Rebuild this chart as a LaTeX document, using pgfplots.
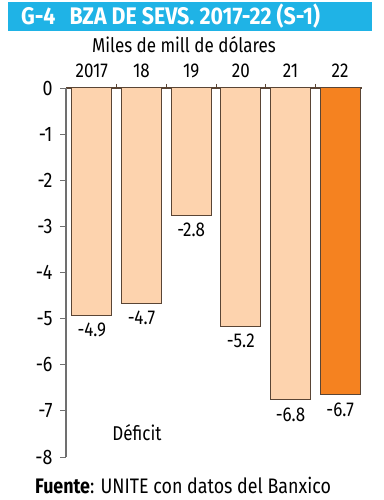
\documentclass[border=0pt]{standalone}
\usepackage{fontspec}
\setmainfont{Fira Sans}[FakeStretch=0.85]
\newfontfamily\titlefont{Fira Sans}[FakeStretch=0.89]
\usepackage{pgfplots}
\pgfplotsset{compat=1.18}
\definecolor{banner}{HTML}{1FB3E6}
\definecolor{peach}{HTML}{FDD3AE}
\definecolor{orng}{HTML}{F58220}
\definecolor{edge}{HTML}{5A4535}
\definecolor{axgray}{HTML}{707070}
\begin{document}
\begin{tikzpicture}
\path[use as bounding box] (0pt,0pt) rectangle (383pt,-500pt);
\fill[banner] (8pt,-2pt) rectangle (372pt,-31pt);
\node[anchor=west,text=white,font=\titlefont\fontsize{24}{24}\selectfont\bfseries,inner sep=0] at (21pt,-16.5pt) {G-4\hspace{14pt}BZA DE SEVS. 2017-22 (S-1)};
\node[font=\fontsize{20}{20}\selectfont,inner sep=0] at (184pt,-45pt) {Miles de mill de dólares};
\begin{axis}[
  at={(66pt,-88pt)}, anchor=north west,
  scale only axis, width=296pt, height=369pt,
  xmin=-0.52, xmax=5.44, ymin=-8, ymax=0,
  axis x line*=top, axis y line*=left,
  x axis line style={draw=edge, line width=1.2pt},
  y axis line style={draw=axgray, line width=1.2pt},
  xtick={0,1,2,3,4,5},
  xticklabels={2017,18,19,20,21,22},
  minor xtick={0.5,1.5,2.5,3.5,4.5,5.5},
  major x tick style={draw=none},
  minor x tick style={draw=edge, line width=0.8pt},
  minor tick length=4pt,
  xticklabel style={font=\fontsize{20}{20}\selectfont, yshift=1pt},
  ytick={0,-1,-2,-3,-4,-5,-6,-7,-8},
  yticklabels={0,-1,-2,-3,-4,-5,-6,-7,-8},
  ytick style={draw=axgray, line width=0.8pt},
  y tick label style={font=\fontsize{21}{21}\selectfont, xshift=-4pt},
  tick align=outside, major tick length=6pt,
  ybar, bar width=40pt, bar shift=0pt,
  nodes near coords,
  every node near coord/.append style={anchor=north, yshift=-4pt, font=\fontsize{20}{20}\selectfont, text=black},
  point meta=explicit symbolic,
  clip=false,
]
\addplot[fill=peach, draw=edge, line width=1pt] coordinates {(0,-4.93) [-4.9] (1,-4.67) [-4.7] (2,-2.76) [-2.8] (3,-5.17) [-5.2] (4,-6.76) [-6.8]};
\addplot[fill=orng, draw=edge, line width=1pt] coordinates {(5,-6.65) [-6.7]};
\node[font=\fontsize{20}{20}\selectfont] at (axis cs:0.91,-7.48) {Déficit};
\end{axis}
\node[anchor=west,inner sep=0,font=\fontsize{21}{21}\selectfont] at (35pt,-485pt) {\textbf{Fuente}: UNITE con datos del Banxico};
\end{tikzpicture}
\end{document}
